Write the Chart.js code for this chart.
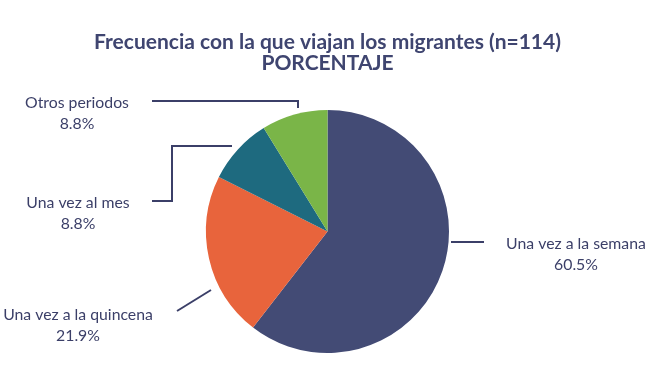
<!DOCTYPE html>
<html>
<head>
<meta charset="utf-8">
<script src="https://cdn.jsdelivr.net/npm/chart.js"></script>
<style>
  html, body { margin: 0; padding: 0; background: #fff; }
  #wrap { width: 650px; height: 386px; }
</style>
</head>
<body>
<div id="wrap"><canvas id="graf" width="650" height="386"></canvas></div>
<script>
const categorias = ["Una vez a la semana", "Una vez a la quincena", "Una vez al mes", "Otros periodos"];
const porcentajes = [60.5, 21.9, 8.8, 8.8];
const colores = ["#434B75", "#E8643C", "#1E6A7F", "#7AB548"];
const titulo = ["Frecuencia con la que viajan los migrantes (n=114)", "PORCENTAJE"];

const navy = "#3B3F68";

// label placement relative to the pie centre (dx, dy), leader line points likewise
const etiquetas = [
  { tx: 248.5, ty: 17.5, linea: [[123.5, 10.5], [156.5, 10.5]] },
  { tx: -249.5, ty: 88.5, linea: [[-116.5, 58.5], [-150.5, 79.5]] },
  { tx: -249.5, ty: -23.5, linea: [[-95.5, -85.5], [-155.5, -85.5], [-155.5, -30.5], [-175.5, -30.5]] },
  { tx: -250.5, ty: -123.5, linea: [[-29.5, -123.5], [-29.5, -130.5], [-175.5, -130.5]] }
];

const labelsPlugin = {
  id: 'labels',
  afterDraw(chart) {
    const ctx = chart.ctx;
    const meta = chart.getDatasetMeta(0);
    ctx.save();
    meta.data.forEach((arc, i) => {
      const cx = arc.x, cy = arc.y;
      const e = etiquetas[i];
      ctx.strokeStyle = navy;
      ctx.lineWidth = 2;
      ctx.beginPath();
      e.linea.forEach((p, k) => {
        if (k === 0) ctx.moveTo(cx + p[0], cy + p[1]);
        else ctx.lineTo(cx + p[0], cy + p[1]);
      });
      ctx.stroke();
      ctx.fillStyle = navy;
      ctx.font = "15.8px Lato";
      ctx.textAlign = "center";
      ctx.textBaseline = "alphabetic";
      ctx.fillText(categorias[i], cx + e.tx, cy + e.ty);
      ctx.fillText(porcentajes[i].toFixed(1) + "%", cx + e.tx, cy + e.ty + 20.5);
    });
    ctx.restore();
  }
};

new Chart(document.getElementById('graf'), {
  type: 'pie',
  data: {
    labels: categorias,
    datasets: [{
      data: porcentajes,
      backgroundColor: colores,
      borderWidth: 0
    }]
  },
  options: {
    responsive: false,
    animation: false,
    layout: { padding: { top: 0, bottom: 33, left: 5, right: 0 } },
    plugins: {
      legend: { display: false },
      tooltip: { enabled: false },
      title: {
        display: true,
        text: titulo,
        color: "#3F4570",
        font: { family: "Lato", size: 21, weight: "bold", lineHeight: 1.0 },
        padding: { top: 32, bottom: 36 }
      }
    }
  },
  plugins: [labelsPlugin]
});
</script>
</body>
</html>
